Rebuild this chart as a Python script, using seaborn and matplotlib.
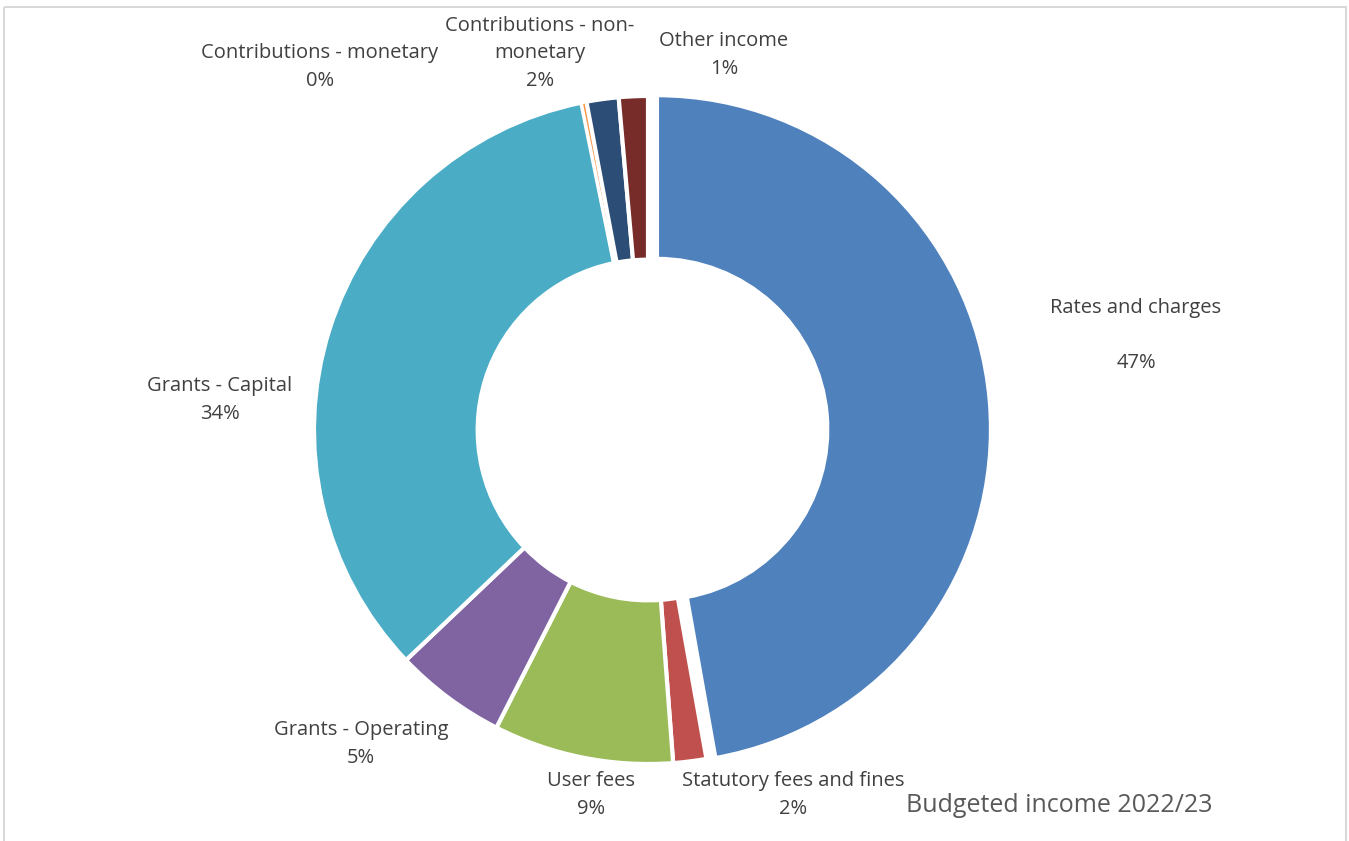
import matplotlib
matplotlib.use("Agg")
import matplotlib.pyplot as plt
from matplotlib.patches import Rectangle
import seaborn as sns

# Budgeted income 2022/23, share of total (%)
categories = [
    "Rates and charges",
    "Statutory fees and fines",
    "User fees",
    "Grants - Operating",
    "Grants - Capital",
    "Contributions - monetary",
    "Contributions - non-monetary",
    "Other income",
]
shares = [47.2, 1.6, 8.7, 5.4, 33.9, 0.25, 1.55, 1.4]
colors = ["#4F81BD", "#C0504D", "#9BBB59", "#8064A2",
          "#4BACC6", "#F79646", "#2C4D75", "#772C2A"]
chart_title = "Budgeted income 2022/23"

# label text layout: display name, position (px from top-left), blank line before value
label_layout = {
    "Rates and charges": ("Rates and charges", (1136, 335), True),
    "Statutory fees and fines": ("Statutory fees and fines", (793, 795), False),
    "User fees": ("User fees", (591, 795), False),
    "Grants - Operating": ("Grants - Operating", (361, 744), False),
    "Grants - Capital": ("Grants - Capital", (220, 400), False),
    "Contributions - monetary": ("Contributions - monetary", (320, 67), False),
    "Contributions - non-monetary": ("Contributions - non-\nmonetary", (540, 53), False),
    "Other income": ("Other income", (724, 55), False),
}

sns.set_theme(style="white")
plt.rcParams["font.family"] = ["Open Sans", "DejaVu Sans"]

W, H = 1349, 841
fig = plt.figure(figsize=(W / 100, H / 100), dpi=100)
ax = fig.add_axes([0, 0, 1, 1])
ax.set_xlim(0, W)
ax.set_ylim(H, 0)
ax.axis("off")

# donut drawn on its own axes so the pie keeps its usual orientation
cx, cy, r = 648, 430, 334
pad = 20
pax = fig.add_axes([(cx - r - pad) / W, 1 - (cy + r + pad) / H,
                    (2 * r + 2 * pad) / W, (2 * r + 2 * pad) / H])

explode = [9 if c == "Rates and charges" else 0 for c in categories]
wedges, _ = pax.pie(
    shares,
    colors=colors,
    startangle=90,
    counterclock=False,
    radius=r,
    explode=explode,
    wedgeprops=dict(width=r * 0.49, edgecolor="white", linewidth=3),
)
pax.set_xlim(-r - pad, r + pad)
pax.set_ylim(-r - pad, r + pad)
pax.set_aspect("equal")
pax.axis("off")

# thinner outline on the smallest slice so its sliver stays visible
for w, c in zip(wedges, categories):
    if c == "Contributions - monetary":
        w.set_linewidth(2.2)

total = sum(shares)
for cat, val in zip(categories, shares):
    name, (x, y), gap = label_layout[cat]
    pct = f"{round(val / total * 100):d}%"
    text = name + ("\n\n" if gap else "\n") + pct
    ax.text(x, y, text, ha="center", va="center", fontsize=14.5,
            color="#404040", linespacing=1.5)

ax.text(906, 806, chart_title, ha="left", va="center", fontsize=18,
        color="#595959")

# outer chart frame
ax.add_patch(Rectangle((3.5, 6.5), 1342, 900, fill=False,
                       edgecolor="#D9D9D9", linewidth=1.5, clip_on=False))

fig.savefig("out.png", dpi=100)
